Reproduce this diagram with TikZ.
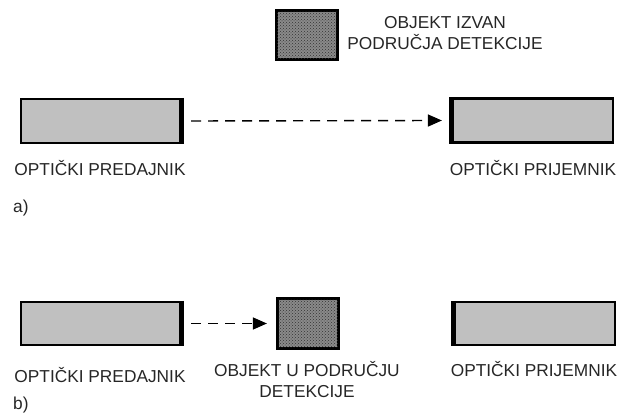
\documentclass[tikz,border=0pt]{standalone}
\usepackage{fontspec}
\setmainfont{Liberation Sans}
\usetikzlibrary{arrows.meta,patterns}
\definecolor{boxgray}{HTML}{C0C0C0}
\definecolor{objgray}{HTML}{8A8A8A}
\begin{document}
\begin{tikzpicture}[x=1pt,y=1pt,
  device/.style={draw=black,line width=2.2pt,fill=boxgray,minimum width=159pt,minimum height=44pt,inner sep=0pt},
  object/.style={draw=black,line width=2.2pt,fill=objgray,minimum width=60pt,minimum height=48pt,inner sep=0pt},
  objfill/.style={pattern=crosshatch dots,pattern color=black!80},
  lbl/.style={font=\fontsize{17.3}{21}\selectfont,text=black!85,inner sep=0pt,align=center},
  beam/.style={dash pattern=on 10pt off 7pt,line width=1.4pt,-{Triangle[length=14pt,width=12pt]}},
  edge/.style={line width=5pt}
]
\useasboundingbox (0,0) rectangle (621,417);
% a)
\node[device] (ta) at (100.5,296) {};
\node[device,minimum width=160pt] (ra) at (533,296.5) {};
\node[object] (oa) at (307,382) {};
\fill[objfill] (oa.south west) rectangle (oa.north east);
\draw[line width=2.2pt] (oa.south west) rectangle (oa.north east);
\draw[edge] (ta.north east) -- (ta.south east);
\draw[edge] (ra.north west) -- (ra.south west);
\node[lbl] (oal) at (445,383.5) {OBJEKT IZVAN\\PODRUČJA DETEKCIJE};
\node[lbl] (tal) at (100,249) {OPTIČKI PREDAJNIK};
\node[lbl] (ral) at (533,249) {OPTIČKI PRIJEMNIK};
\node[lbl,anchor=west] (la) at (13,209) {a)};
\coordinate (ba1) at ([xshift=10pt]ta.east);
\coordinate (ba2) at ([xshift=-10pt]ra.west);
\draw[beam] (ba1) -- (ba2);
% b)
\node[device,minimum height=43pt] (tb) at (100.5,93.5) {};
\node[device,minimum width=160pt,minimum height=43pt] (rb) at (535,93.5) {};
\node[object,minimum height=49pt] (ob) at (308,93.5) {};
\fill[objfill] (ob.south west) rectangle (ob.north east);
\draw[line width=2.2pt] (ob.south west) rectangle (ob.north east);
\draw[edge] (tb.north east) -- (tb.south east);
\draw[edge] (rb.north west) -- (rb.south west);
\node[lbl] (tbl) at (100,42) {OPTIČKI PREDAJNIK};
\node[lbl] (rbl) at (534,48) {OPTIČKI PRIJEMNIK};
\node[lbl] (obl) at (307,37) {OBJEKT U PODRUČJU\\DETEKCIJE};
\node[lbl,anchor=west] (lb) at (13,12) {b)};
\coordinate (bb1) at ([xshift=10pt]tb.east);
\coordinate (bb2) at ([xshift=-10pt]ob.west);
\draw[beam] (bb1) -- (bb2);
\end{tikzpicture}
\end{document}
